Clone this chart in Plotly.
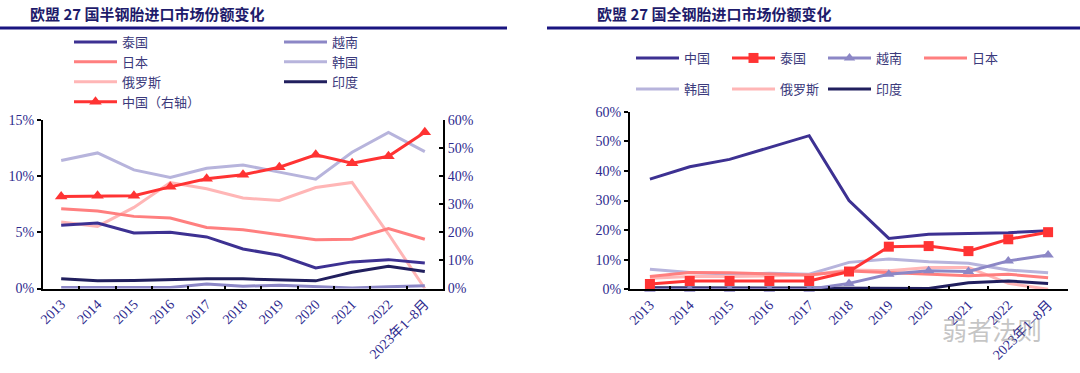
import plotly.graph_objects as go

years = ['2013', '2014', '2015', '2016', '2017', '2018', '2019', '2020', '2021', '2022', '2023年1–8月']

# 欧盟27国半钢胎进口市场份额 (%)
semi_thailand = [5.62, 5.83, 4.94, 5.0, 4.59, 3.52, 2.96, 1.83, 2.37, 2.57, 2.28]
semi_vietnam = [0.1, 0.1, 0.05, 0.1, 0.4, 0.2, 0.3, 0.2, 0.05, 0.15, 0.25]
semi_japan = [7.1, 6.89, 6.42, 6.27, 5.44, 5.24, 4.79, 4.35, 4.38, 5.33, 4.38]
semi_korea = [11.39, 12.07, 10.56, 9.88, 10.71, 11.0, 10.36, 9.73, 12.13, 13.9, 12.19]
semi_russia = [5.92, 5.53, 7.22, 9.44, 8.88, 8.05, 7.84, 8.99, 9.44, 4.85, 0.0]
semi_india = [0.86, 0.68, 0.71, 0.8, 0.86, 0.86, 0.8, 0.68, 1.45, 1.98, 1.51]
semi_china = [32.8, 33.0, 33.0, 36.2, 39.05, 40.5, 43.2, 47.6, 44.6, 47.1, 55.6]

# 欧盟27国全钢胎进口市场份额 (%)
all_china = [37.2, 41.4, 43.9, 47.9, 51.9, 30.0, 17.2, 18.6, 18.9, 19.1, 19.8]
all_thailand = [1.8, 2.8, 2.8, 2.8, 2.8, 6.0, 14.4, 14.6, 12.9, 16.9, 19.3]
all_vietnam = [0.0, 0.0, 0.0, 0.0, 0.0, 2.0, 5.1, 6.3, 6.0, 9.6, 11.6]
all_japan = [4.3, 5.7, 5.6, 5.1, 4.8, 6.2, 5.6, 5.1, 4.6, 5.1, 3.9]
all_korea = [6.8, 5.7, 5.2, 5.4, 5.1, 9.1, 10.2, 9.3, 8.8, 6.5, 5.6]
all_russia = [3.7, 4.3, 4.3, 4.6, 4.8, 6.5, 6.3, 7.4, 7.4, 2.0, 0.0]
all_india = [0.5, 0.4, 0.4, 0.4, 0.4, 0.4, 0.3, 0.3, 2.2, 2.8, 2.0]

title_left = '欧盟 27 国半钢胎进口市场份额变化'
title_right = '欧盟 27 国全钢胎进口市场份额变化'
watermark = '弱者法则'

C_DARKBLUE = '#3d3192'
C_VIET = '#8c87c6'
C_JAPAN = '#ff7f7f'
C_KOREA = '#b7b4dc'
C_RUSSIA = '#ffb6b6'
C_INDIA = '#211f5e'
C_RED = '#ff3333'

TXT = '#2e2a8e'
CJK = 'Noto Sans CJK SC'
SERIF = 'Liberation Serif, Noto Sans CJK SC'

fig = go.Figure()

def line(x, y, name, color, xa, ya, legend, rank, width=3, marker=None):
    kw = dict(x=x, y=y, name=name, mode='lines', xaxis=xa, yaxis=ya, legend=legend,
              legendrank=rank, line=dict(color=color, width=width), cliponaxis=False,
              hoverinfo='skip')
    if marker:
        kw['mode'] = 'lines+markers'
        kw['marker'] = marker
    fig.add_trace(go.Scatter(**kw))

# left chart
line(years, semi_korea, '韩国', C_KOREA, 'x', 'y', 'legend2', 2)
line(years, semi_russia, '俄罗斯', C_RUSSIA, 'x', 'y', 'legend', 3)
line(years, semi_japan, '日本', C_JAPAN, 'x', 'y', 'legend', 2)
line(years, semi_thailand, '泰国', C_DARKBLUE, 'x', 'y', 'legend', 1)
line(years, semi_india, '印度', C_INDIA, 'x', 'y', 'legend2', 3)
line(years, semi_vietnam, '越南', C_VIET, 'x', 'y', 'legend2', 1)
line(years, semi_china, '中国（右轴）', C_RED, 'x', 'y2', 'legend', 4,
     marker=dict(symbol='triangle-up', size=11, color=C_RED))

# right chart
line(years, all_korea, '韩国', C_KOREA, 'x3', 'y3', 'legend4', 1)
line(years, all_russia, '俄罗斯', C_RUSSIA, 'x3', 'y3', 'legend4', 2)
line(years, all_japan, '日本', C_JAPAN, 'x3', 'y3', 'legend3', 4)
line(years, all_india, '印度', C_INDIA, 'x3', 'y3', 'legend4', 3)
line(years, all_vietnam, '越南', C_VIET, 'x3', 'y3', 'legend3', 3,
     marker=dict(symbol='triangle-up', size=10, color=C_VIET))
line(years, all_china, '中国', C_DARKBLUE, 'x3', 'y3', 'legend3', 1)
line(years, all_thailand, '泰国', C_RED, 'x3', 'y3', 'legend3', 2,
     marker=dict(symbol='square', size=10, color=C_RED))

tickfont = dict(family=SERIF, size=14, color=TXT)
xtickfont = dict(family=SERIF, size=14, color=TXT)

def xaxis(domain, anchor):
    return dict(domain=domain, anchor=anchor, type='category', range=[-0.5, 10.5],
                tickangle=-45, tickfont=xtickfont, showline=True, linecolor='black',
                linewidth=2, ticks='inside', ticklen=3, tickcolor='black', tickwidth=2,
                tickson='boundaries', showgrid=False, zeroline=False, fixedrange=True,
                automargin=False)

def yaxis(domain, anchor, rng, dtick, side='left', overlaying=None):
    d = dict(domain=domain, anchor=anchor, range=rng, dtick=dtick, ticksuffix='%',
             tickfont=tickfont, showline=True, linecolor='black', linewidth=2,
             ticks='inside' if side == 'right' else 'outside', ticklen=4,
             tickcolor='black', tickwidth=1.5, showgrid=False, zeroline=False,
             side=side, fixedrange=True, automargin=False)
    if overlaying:
        d['overlaying'] = overlaying
    return d

left_x = [43 / 1080, 443 / 1080]
left_y = [(373 - 288.5) / 373, (373 - 120) / 373]
right_x = [630 / 1080, 1068 / 1080]
right_y = [(373 - 289.3) / 373, (373 - 111.7) / 373]

legfont = dict(family=CJK, size=13, color='#3b3a7c')
IW = 43

fig.update_layout(
    width=1080, height=373,
    margin=dict(l=0, r=0, t=0, b=0, autoexpand=False),
    paper_bgcolor='white', plot_bgcolor='rgba(0,0,0,0)',
    showlegend=True,
    xaxis=xaxis(left_x, 'y'),
    yaxis=yaxis(left_y, 'x', [0, 15], 5),
    yaxis2=yaxis(left_y, 'x', [0, 60], 10, side='right', overlaying='y'),
    xaxis3=xaxis(right_x, 'y3'),
    yaxis3=yaxis(right_y, 'x3', [0, 60], 10),
    legend=dict(x=(122 - 53) / 1080, y=1 - 27 / 373, xanchor='left', yanchor='top',
                orientation='v', traceorder='normal', font=legfont, itemwidth=IW,
                bgcolor='rgba(0,0,0,0)'),
    legend2=dict(x=(332 - 53) / 1080, y=1 - 27 / 373, xanchor='left', yanchor='top',
                 orientation='v', traceorder='normal', font=legfont, itemwidth=IW,
                 bgcolor='rgba(0,0,0,0)'),
    legend3=dict(x=(685 - 54) / 1080, y=1 - 43 / 373, xanchor='left', yanchor='top',
                 orientation='h', traceorder='normal', entrywidth=38, font=legfont,
                 itemwidth=IW, bgcolor='rgba(0,0,0,0)'),
    legend4=dict(x=(685 - 54) / 1080, y=1 - 74 / 373, xanchor='left', yanchor='top',
                 orientation='h', traceorder='normal', entrywidth=38, font=legfont,
                 itemwidth=IW, bgcolor='rgba(0,0,0,0)'),
)

fig.add_annotation(text='<b>' + title_left + '</b>', x=28 / 1080, y=1 - 13 / 373,
                   xref='paper', yref='paper', xanchor='left', yanchor='middle',
                   showarrow=False, font=dict(family=CJK, size=15, color='#1e1b6b'))
fig.add_annotation(text='<b>' + title_right + '</b>', x=595 / 1080, y=1 - 13 / 373,
                   xref='paper', yref='paper', xanchor='left', yanchor='middle',
                   showarrow=False, font=dict(family=CJK, size=15, color='#1e1b6b'))
fig.add_shape(type='line', xref='paper', yref='paper', x0=0, x1=507 / 1080,
              y0=1 - 28 / 373, y1=1 - 28 / 373, line=dict(color='#1a1580', width=3))
fig.add_shape(type='line', xref='paper', yref='paper', x0=547 / 1080, x1=1,
              y0=1 - 28 / 373, y1=1 - 28 / 373, line=dict(color='#1a1580', width=3))
fig.add_annotation(text=watermark, x=1044 / 1080, y=1 - 329 / 373, xref='paper', yref='paper',
                   xanchor='right', yanchor='middle', showarrow=False,
                   font=dict(family=CJK, size=25, color='rgba(140,140,140,0.5)'))

fig.write_html('out.html', config={'displayModeBar': False},
               post_script="document.body.style.margin='0';document.body.style.overflow='hidden';")
